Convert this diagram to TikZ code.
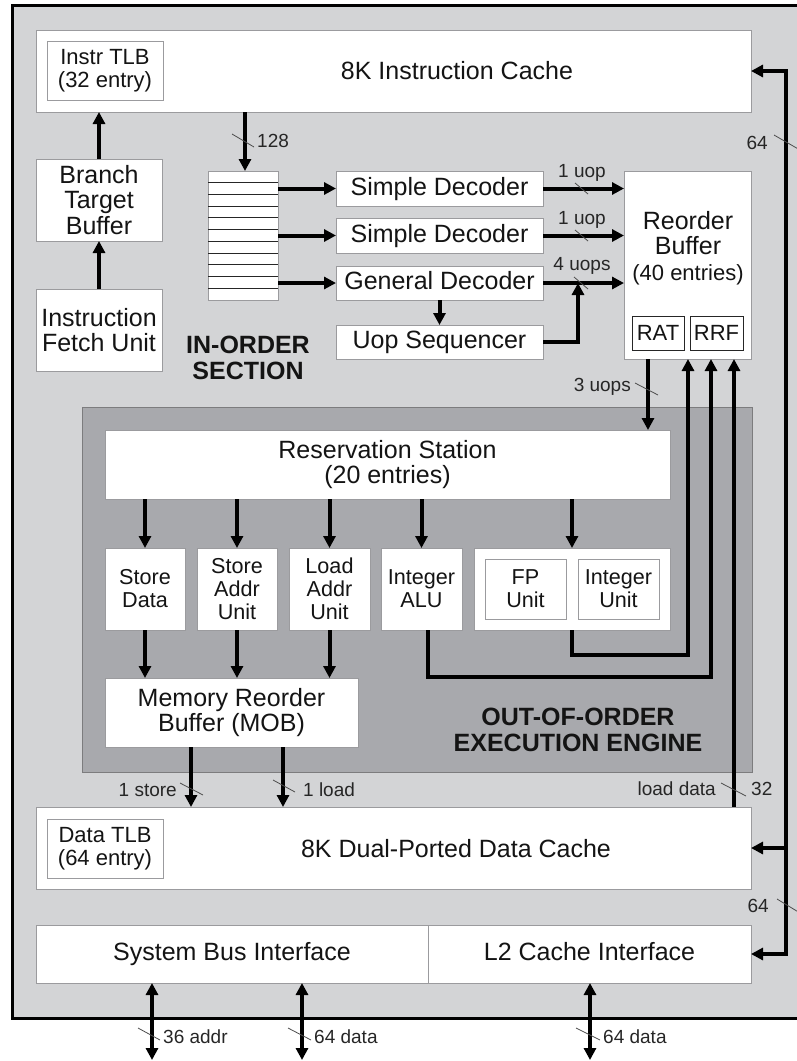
\documentclass[tikz,border=0pt]{standalone}
\usepackage{fontspec}
\setmainfont{Liberation Sans}
\usetikzlibrary{arrows.meta,calc}
\definecolor{bgA}{RGB}{211,212,214}
\definecolor{bgB}{RGB}{168,169,173}
\definecolor{bord}{RGB}{155,155,158}
\definecolor{txt}{RGB}{20,20,20}
\begin{document}
\begin{tikzpicture}[x=1pt,y=-1pt,
  font=\fontsize{25}{25.5}\selectfont, text=txt,
  rect/.style n args={4}{minimum width={(#3-#1)*1pt}, minimum height={(#4-#2)*1pt}, at={({(#1+#3)/2},{(#2+#4)/2})}},
  box/.style={draw=bord, fill=white, line width=0.9pt, inner sep=0pt, outer sep=0pt, align=center},
  blk/.style={draw=black!85, fill=white, line width=0.9pt, inner sep=0pt, outer sep=0pt, align=center},
  region/.style={draw=bord!80!black, fill=bgB, line width=0.9pt, inner sep=0pt},
  sm/.style={font=\fontsize{22}{23}\selectfont},
  unitf/.style={font=\fontsize{21.6}{23}\selectfont},
  lbl/.style={font=\fontsize{19}{19}\selectfont, inner sep=0pt, text=black!85},
  ttl/.style={font=\bfseries\fontsize{25}{25.5}\selectfont, align=center, inner sep=0pt},
  oneline/.style={text height=18pt, text depth=5pt},
  arr/.style={line width=4pt, -{Triangle[length=12pt,width=12pt]}},
  darr/.style={line width=4pt, {Triangle[length=12pt,width=12pt]}-{Triangle[length=12pt,width=12pt]}},
  tickmark/.style={draw=black!70, line width=0.8pt},
  qline/.style={draw=black!85, line width=0.9pt}]
\useasboundingbox (0,0) rectangle (797,1061);
\clip (0,0) rectangle (797,1061);

% outer chip
\draw[fill=bgA, line width=3pt] (12,5) rectangle (845,1018);

% out-of-order region
\node[region, rect={82}{407}{752}{772}] (ooo) {};

% instruction cache
\node[box, rect={36}{30}{751}{112}] (icache) {};
\node (ictxt) at (457,71) {8K Instruction Cache};
\node[box, sm, rect={47}{41}{163}{100}] (itlb) {Instr TLB\\(32 entry)};

% fetch
\node[box, rect={36}{159}{162}{241}] (btb) {Branch\\Target\\Buffer};
\node[box, rect={36}{289}{162}{371}] (ifu) {Instruction\\Fetch Unit};

% queue
\node[box, rect={208}{171}{278}{300}] (q) {};
\foreach \i in {1,...,10}
  \draw[qline] ($(q.north west)!\i/11!(q.south west)$) -- ($(q.north east)!\i/11!(q.south east)$);

% decoders
\node[box, oneline, rect={336}{171}{543}{206}] (sd1) {Simple Decoder};
\node[box, oneline, rect={336}{218}{543}{253}] (sd2) {Simple Decoder};
\node[box, oneline, rect={336}{266}{543}{300}] (gd) {General Decoder};
\node[box, oneline, rect={336}{325}{543}{359}] (us) {Uop Sequencer};

% reorder buffer
\node[box, rect={624}{171}{751}{359}] (rob) {};
\node[align=center] (robtxt) at (688,248) {Reorder\\Buffer\\{\fontsize{22}{23}\selectfont (40 entries)}};
\node[blk, sm, rect={632}{316}{684}{350}] (rat) {RAT};
\node[blk, sm, rect={690}{316}{743}{350}] (rrf) {RRF};

\node[ttl] (ino) at (248,358) {IN-ORDER\\SECTION};

% reservation station and units
\node[box, rect={105}{430}{670}{499}] (rs) {Reservation Station\\(20 entries)};
\node[box, unitf, rect={105}{548}{185}{630}] (sdu) {Store\\Data};
\node[box, unitf, rect={197}{548}{277}{630}] (sau) {Store\\Addr\\Unit};
\node[box, unitf, rect={289}{548}{370}{630}] (lau) {Load\\Addr\\Unit};
\node[box, unitf, rect={381}{548}{462}{630}] (ialu) {Integer\\ALU};
\node[box, rect={474}{548}{670}{630}] (fpi) {};
\node[box, unitf, rect={485}{559}{566}{619}] (fpu) {FP\\Unit};
\node[box, unitf, rect={578}{559}{659}{619}] (iu) {Integer\\Unit};
\node[box, rect={105}{678}{358}{747}] (mob) {Memory Reorder\\Buffer (MOB)};
\node[ttl] (oootxt) at (578,730) {OUT-OF-ORDER\\EXECUTION ENGINE};

% data cache
\node[box, rect={36}{807}{751}{889}] (dcache) {};
\node (dctxt) at (456,849) {8K Dual-Ported Data Cache};
\node[box, sm, rect={47}{819}{163}{878}] (dtlb) {Data TLB\\(64 entry)};

% interfaces
\node[box, oneline, rect={36}{925}{428}{983}] (sbi) {System Bus Interface};
\node[box, oneline, rect={428}{925}{751}{983}] (l2) {L2 Cache Interface};

% ---- connectors ----
\draw[arr] (btb.north) -- (btb.north |- icache.south);
\draw[arr] (ifu.north) -- (btb.south);
\draw[arr] (245,0 |- icache.south) -- (245,0 |- q.north);
\draw[tickmark] (232,134) -- (254,147);
\node[lbl, anchor=west] (l128) at (257,141) {128};

\draw[arr] (q.east |- sd1.west) -- (sd1.west);
\draw[arr] (q.east |- sd2.west) -- (sd2.west);
\draw[arr] (q.east |- gd.west) -- (gd.west);
\draw[arr] (gd.south) -- (us.north);

\draw[arr] (sd1.east) -- (sd1.east -| rob.west);
\draw[arr] (sd2.east) -- (sd2.east -| rob.west);
\draw[arr] (gd.east) -- (gd.east -| rob.west);
\coordinate (j4) at (578,0 |- gd.east);
\draw[arr, line join=miter] (us.east) -| (j4);
\draw[tickmark] (575,183) -- (588,194);
\draw[tickmark] (575,230) -- (588,241);
\draw[tickmark] (574,277) -- (588,289);
\node[lbl] (u1) at (582,173) {1 uop};
\node[lbl] (u2) at (582,220) {1 uop};
\node[lbl] (u4) at (582,266) {4 uops};

\draw[arr] (648,0 |- rob.south) -- (648,0 |- rs.north);
\draw[tickmark] (635,383) -- (658,395);
\node[lbl, anchor=east] (u3) at (631,387) {3 uops};

\foreach \n in {sdu,sau,lau,ialu,fpi}
  \draw[arr] (rs.south -| \n.north) -- (\n.north);
\foreach \n in {sdu,sau,lau}
  \draw[arr] (\n.south) -- (\n.south |- mob.north);

\draw[arr, line join=miter] (572,0 |- fpi.south) -- (572,655) -| (688,0 |- rob.south);
\draw[arr, line join=miter] (428,0 |- ialu.south) -- (428,677) -| (711,0 |- rob.south);
\draw[arr] (734,0 |- dcache.north) -- (734,0 |- rob.south);
\node[lbl, anchor=east] (ld) at (716,789) {load data};
\draw[tickmark] (721,783) -- (746,796);
\node[lbl, anchor=west] (l32) at (751,789) {32};

\draw[arr] (191,0 |- mob.south) -- (191,0 |- dcache.north);
\draw[arr] (283,0 |- mob.south) -- (283,0 |- dcache.north);
\node[lbl, anchor=east] (st) at (177,790) {1 store};
\draw[tickmark] (180,783) -- (203,795);
\draw[tickmark] (273,780) -- (295,792);
\node[lbl, anchor=west] (lo) at (303,790) {1 load};

% bus on the right
\draw[darr, line join=miter] (icache.east) -| (786,0 |- l2.east) -- (l2.east);
\draw[arr] (786,0 |- dcache.east) -- (dcache.east);
\draw[tickmark] (774,135) -- (800,150);
\node[lbl, anchor=east] (b64a) at (768,143) {64};
\draw[tickmark] (777,899) -- (800,913);
\node[lbl, anchor=east] (b64b) at (769,906) {64};

% external buses
\coordinate (e1) at (152,1060);
\coordinate (e2) at (302,1060);
\coordinate (e3) at (590,1060);
\draw[darr] (e1 |- sbi.south) -- (e1);
\draw[darr] (e2 |- sbi.south) -- (e2);
\draw[darr] (e3 |- l2.south) -- (e3);
\draw[tickmark] (138,1028) -- (160,1040);
\draw[tickmark] (288,1028) -- (311,1040);
\draw[tickmark] (576,1028) -- (600,1040);
\node[lbl, anchor=west] (a36) at (163,1037) {36 addr};
\node[lbl, anchor=west] (d64a) at (314,1037) {64 data};
\node[lbl, anchor=west] (d64b) at (603,1037) {64 data};
\end{tikzpicture}
\end{document}
